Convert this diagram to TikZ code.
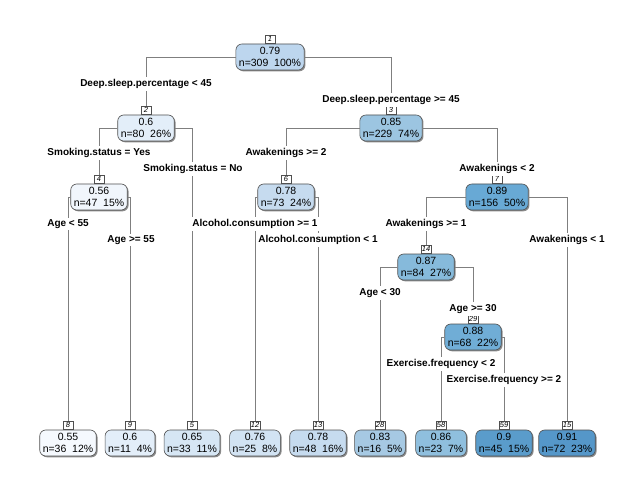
\documentclass[tikz,border=0pt]{standalone}
\usepackage{fontspec}
\setmainfont{Liberation Sans}
\usetikzlibrary{shadows}
\definecolor{c55}{HTML}{F5F9FE}
\definecolor{c56}{HTML}{F1F6FC}
\definecolor{c60}{HTML}{E3EEF9}
\definecolor{c65}{HTML}{D6E6F4}
\definecolor{c76}{HTML}{D2E3F3}
\definecolor{c78}{HTML}{C6DBEF}
\definecolor{c79}{HTML}{BDD6EE}
\definecolor{c83}{HTML}{A6C9E3}
\definecolor{c85}{HTML}{9CC5E1}
\definecolor{c86}{HTML}{8FBFDE}
\definecolor{c87}{HTML}{86BADB}
\definecolor{c88}{HTML}{70ADD6}
\definecolor{c89}{HTML}{68A9D5}
\definecolor{c90}{HTML}{5A9CCB}
\definecolor{c91}{HTML}{5597C9}
\definecolor{edgegray}{HTML}{7F7F7F}
\definecolor{boxborder}{HTML}{505050}
\tikzset{
  treebox/.style={draw=boxborder, line width=0.6pt, rounded corners=6pt, align=center,
    inner xsep=3pt, inner ysep=1.5pt, minimum height=26pt,
    font=\fontsize{10.5}{12}\selectfont,
    general shadow={shadow xshift=1.3pt, shadow yshift=-1.3pt, fill=black!45}},
  numbox/.style={draw=boxborder, fill=white, line width=0.4pt, inner sep=0.8pt,
    minimum width=9.5pt, minimum height=7.5pt, font=\fontsize{7.5}{7.5}\selectfont\itshape},
  edge/.style={draw=edgegray, line width=0.7pt},
  split/.style={fill=white, inner xsep=1pt, inner ysep=2pt, font=\fontsize{10}{12}\selectfont\bfseries}
}
\begin{document}
\begin{tikzpicture}[x=1pt,y=-1pt]
\useasboundingbox[fill=white] (0,0) rectangle (643,492);
% inner nodes
\node[treebox, fill=c79] (n1) at (270,57) {0.79\\n=309\ \ 100\%};
\node[numbox] (n1num) at (270,39) {1};
\node[treebox, fill=c60] (n2) at (146,128) {0.6\\n=80\ \ 26\%};
\node[numbox] (n2num) at (146,110) {2};
\node[treebox, fill=c85] (n3) at (391,128) {0.85\\n=229\ \ 74\%};
\node[numbox] (n3num) at (391,110) {3};
\node[treebox, fill=c56] (n4) at (99,197) {0.56\\n=47\ \ 15\%};
\node[numbox] (n4num) at (99,179) {4};
\node[treebox, fill=c78] (n6) at (286,197) {0.78\\n=73\ \ 24\%};
\node[numbox] (n6num) at (286,179) {6};
\node[treebox, fill=c89] (n7) at (497,197) {0.89\\n=156\ \ 50\%};
\node[numbox] (n7num) at (497,179) {7};
\node[treebox, fill=c87] (n14) at (426,267) {0.87\\n=84\ \ 27\%};
\node[numbox] (n14num) at (426,249) {14};
\node[treebox, fill=c88] (n29) at (473,337) {0.88\\n=68\ \ 22\%};
\node[numbox] (n29num) at (473,319) {29};
% leaves
\node[treebox, fill=c55] (n8) at (68,443) {0.55\\n=36\ \ 12\%};
\node[numbox] (n8num) at (68,425) {8};
\node[treebox, fill=c60] (n9) at (130,443) {0.6\\n=11\ \ 4\%};
\node[numbox] (n9num) at (130,425) {9};
\node[treebox, fill=c65] (n5) at (192,443) {0.65\\n=33\ \ 11\%};
\node[numbox] (n5num) at (192,425) {5};
\node[treebox, fill=c76] (n12) at (255,443) {0.76\\n=25\ \ 8\%};
\node[numbox] (n12num) at (255,425) {12};
\node[treebox, fill=c78] (n13) at (318,443) {0.78\\n=48\ \ 16\%};
\node[numbox] (n13num) at (318,425) {13};
\node[treebox, fill=c83] (n28) at (380,443) {0.83\\n=16\ \ 5\%};
\node[numbox] (n28num) at (380,425) {28};
\node[treebox, fill=c86] (n58) at (441,443) {0.86\\n=23\ \ 7\%};
\node[numbox] (n58num) at (441,425) {58};
\node[treebox, fill=c90] (n59) at (504,443) {0.9\\n=45\ \ 15\%};
\node[numbox] (n59num) at (504,425) {59};
\node[treebox, fill=c91] (n15) at (567,443) {0.91\\n=72\ \ 23\%};
\node[numbox] (n15num) at (567,425) {15};
% connectors
\draw[edge] (n1.west) -| (n2num.north);
\draw[edge] (n1.east) -| (n3num.north);
\draw[edge] (n2.west) -| (n4num.north);
\draw[edge] (n2.east) -| (n5num.north);
\draw[edge] (n3.west) -| (n6num.north);
\draw[edge] (n3.east) -| (n7num.north);
\draw[edge] (n4.west) -| (n8num.north);
\draw[edge] (n4.east) -| (n9num.north);
\draw[edge] (n6.west) -| (n12num.north);
\draw[edge] (n6.east) -| (n13num.north);
\draw[edge] (n7.west) -| (n14num.north);
\draw[edge] (n7.east) -| (n15num.north);
\draw[edge] (n14.west) -| (n28num.north);
\draw[edge] (n14.east) -| (n29num.north);
\draw[edge] (n29.west) -| (n58num.north);
\draw[edge] (n29.east) -| (n59num.north);
% split labels
\node[split] (s1l) at (146,84) {Deep.sleep.percentage < 45};
\node[split] (s1r) at (391,100) {Deep.sleep.percentage >= 45};
\node[split] (s2l) at (99,153) {Smoking.status = Yes};
\node[split] (s2r) at (193,169) {Smoking.status = No};
\node[split] (s3l) at (286,153) {Awakenings >= 2};
\node[split] (s3r) at (497,169) {Awakenings < 2};
\node[split] (s4l) at (68,224) {Age < 55};
\node[split] (s4r) at (131,240) {Age >= 55};
\node[split] (s6l) at (255,224) {Alcohol.consumption >= 1};
\node[split] (s6r) at (318,240) {Alcohol.consumption < 1};
\node[split] (s7l) at (426,224) {Awakenings >= 1};
\node[split] (s7r) at (567,240) {Awakenings < 1};
\node[split] (s14l) at (380,293) {Age < 30};
\node[split] (s14r) at (473,309) {Age >= 30};
\node[split] (s29l) at (441,364) {Exercise.frequency < 2};
\node[split] (s29r) at (504,380) {Exercise.frequency >= 2};
\end{tikzpicture}
\end{document}
